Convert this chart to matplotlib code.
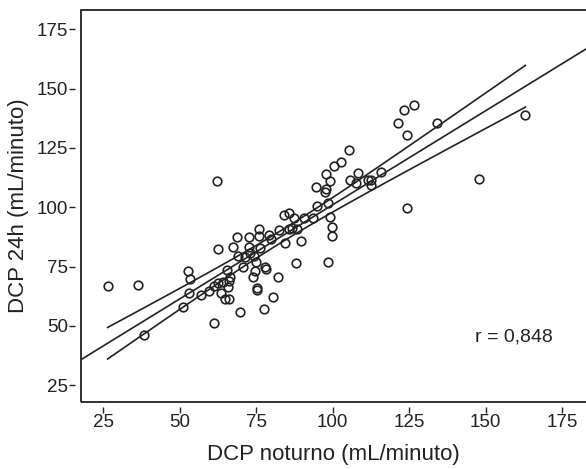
import numpy as np
import matplotlib
matplotlib.use("Agg")
import matplotlib.pyplot as plt
from matplotlib.patches import Rectangle

# Data
dcp_noturno = [26.5, 36.3, 38.5, 51.0, 52.7, 53.3, 53.0, 57.0, 59.5, 61.3, 62.3, 62.4,
               61.4, 62.5, 63.5, 64.2, 65.6, 66.6, 66.2, 65.8, 65.0, 66.0, 67.3, 68.9,
               69.0, 70.8, 69.6, 71.3, 72.6, 72.6, 73.0, 74.0, 74.5, 75.0, 74.4, 75.2,
               75.3, 76.0, 75.8, 76.2, 77.5, 78.0, 78.3, 79.2, 80.0, 80.4, 82.1, 82.6,
               84.1, 84.5, 85.8, 85.6, 86.6, 87.5, 87.9, 88.3, 89.6, 90.5, 93.7, 94.5,
               95.0, 97.4, 97.7, 98.0, 98.6, 98.6, 99.0, 99.3, 99.7, 99.8, 100.4, 102.6,
               105.5, 105.8, 107.8, 108.3, 111.7, 112.5, 112.4, 115.7, 121.3, 123.2,
               124.4, 124.4, 126.6, 134.1, 147.7, 163.0]
dcp_24h = [67.0, 67.3, 46.3, 57.8, 73.2, 69.7, 63.9, 62.8, 64.7, 51.1, 111.1, 82.3,
           66.6, 68.0, 63.9, 68.5, 73.7, 70.8, 69.0, 66.4, 61.2, 61.2, 83.1, 87.3,
           79.4, 74.9, 55.9, 79.0, 87.4, 83.1, 80.6, 70.4, 73.2, 77.0, 79.5, 65.8,
           65.0, 90.7, 88.0, 83.0, 57.0, 75.0, 73.8, 88.5, 86.8, 62.3, 70.5, 90.4,
           96.8, 85.1, 97.4, 90.7, 91.1, 95.3, 76.5, 90.8, 85.9, 95.5, 95.3, 108.6,
           100.6, 106.5, 107.5, 113.9, 101.8, 76.8, 96.0, 111.1, 91.5, 88.0, 117.3, 119.2,
           124.0, 111.4, 110.4, 114.3, 111.3, 111.5, 109.3, 114.8, 135.5, 141.0,
           130.5, 99.8, 143.2, 135.6, 112.0, 139.0]
x_ticks = [25, 50, 75, 100, 125, 150, 175]
y_ticks = [25, 50, 75, 100, 125, 150, 175]
r_label = "r = 0,848"
x_title = "DCP noturno (mL/minuto)"
y_title = "DCP 24h (mL/minuto)"

x = np.array(dcp_noturno)
y = np.array(dcp_24h)
n = len(x)
slope, intercept = np.polyfit(x, y, 1)
resid = y - (intercept + slope * x)
s = np.sqrt(np.sum(resid ** 2) / (n - 2))
xm = x.mean()
sxx = np.sum((x - xm) ** 2)
t_crit = 1.99

plt.rcParams['font.family'] = ["Liberation Sans", "DejaVu Sans"]
ink = "#222222"

fig = plt.figure(figsize=(5.86, 4.69), dpi=100)
ax = fig.add_axes([81 / 586, 1 - 401.7 / 469, 1 - 81 / 586, (401.7 - 10) / 469])
xlim = (17.8, 182.8)
ylim = (18.0, 183.2)
ax.set_xlim(*xlim)
ax.set_ylim(*ylim)

# Regression line and 95% CI of the mean
xl = np.linspace(xlim[0], xlim[1] + 10, 50)
ax.plot(xl, intercept + slope * xl, color=ink, lw=1.2)
xb = np.linspace(x.min(), x.max(), 100)
yb = intercept + slope * xb
se = s * np.sqrt(1 / n + (xb - xm) ** 2 / sxx)
ax.plot(xb, yb + t_crit * se, color=ink, lw=1.2)
ax.plot(xb, yb - t_crit * se, color=ink, lw=1.2)

ax.plot(x, y, linestyle="none", marker="o", markersize=6.2, markerfacecolor="none",
        markeredgecolor=ink, markeredgewidth=1.2)

ax.text(0.857, 0.165, r_label, transform=ax.transAxes, ha="center", va="center",
        fontsize=14, color=ink)

for side in ["left", "bottom"]:
    ax.spines[side].set_position(("outward", 4))
    ax.spines[side].set_visible(False)
for side in ["top", "right"]:
    ax.spines[side].set_visible(False)
ax.add_patch(Rectangle((0, 0), 1.2, 1, transform=ax.transAxes, fill=False,
                       edgecolor=ink, lw=1.3, clip_on=False))

ax.set_xticks(x_ticks)
ax.set_yticks(y_ticks)
ax.tick_params(axis="both", direction="out", length=4, width=1.0, color=ink,
               labelsize=13.5, labelcolor=ink, pad=1)
ax.set_xlabel(x_title, fontsize=16, color=ink, labelpad=9)
ax.set_ylabel(y_title, fontsize=16, color=ink, labelpad=6)

fig.savefig("out.png", dpi=100)
